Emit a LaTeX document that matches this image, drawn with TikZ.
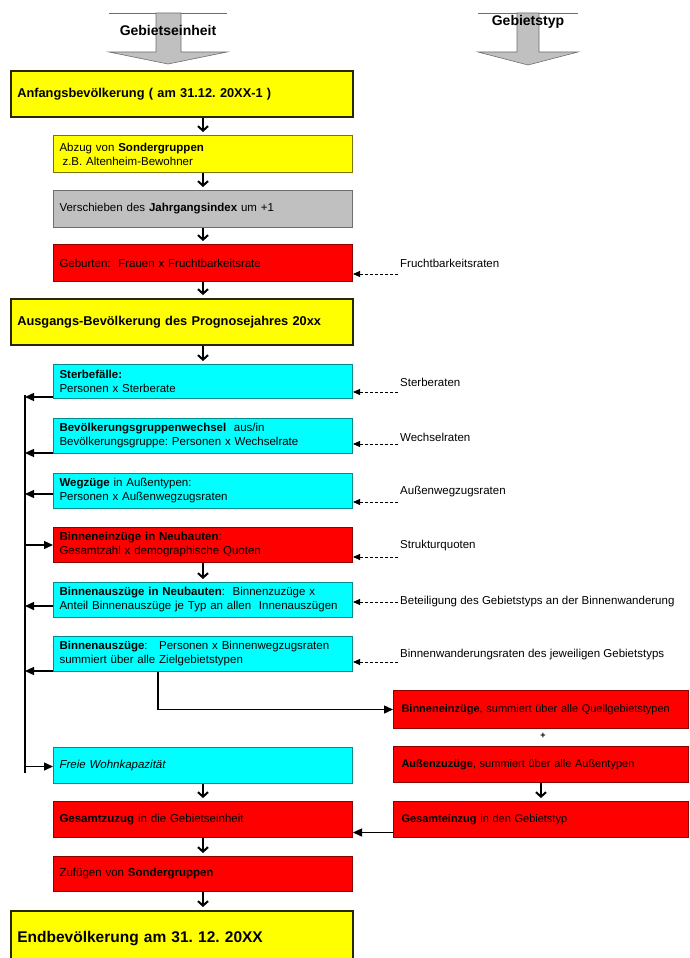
\documentclass[tikz,border=0pt]{standalone}
\usepackage{fontspec}
\setmainfont{Liberation Sans}
\usetikzlibrary{arrows.meta}
\frenchspacing

\definecolor{gelbfill}{RGB}{255,255,0}
\definecolor{gelbrand}{RGB}{120,120,0}
\definecolor{dunkelrand}{RGB}{40,40,0}
\definecolor{rotfill}{RGB}{255,0,0}
\definecolor{rotrand}{RGB}{140,0,0}
\definecolor{tuerkisfill}{RGB}{0,255,255}
\definecolor{tuerkisrand}{RGB}{0,140,140}
\definecolor{graufill}{RGB}{192,192,192}
\definecolor{graurand}{RGB}{110,110,110}

\begin{document}
\begin{tikzpicture}[x=1pt, y=-1pt,
  box/.style={draw, line width=1pt, anchor=north west, text width=287pt, inner xsep=6pt, inner ysep=2pt,
    minimum height=35pt, align=left, font=\fontsize{11.5}{14}\selectfont},
  bigbox/.style={box, line width=1.6pt, text width=329pt, inner xsep=6.5pt, minimum height=46pt,
    font=\bfseries\fontsize{12.8}{15}\selectfont},
  rechts/.style={text width=279pt, inner xsep=8pt, font=\fontsize{11}{14}\selectfont},
  gelb/.style={fill=gelbfill, draw=gelbrand},
  grau/.style={fill=graufill, draw=graurand},
  rot/.style={fill=rotfill, draw=rotrand},
  tuerkis/.style={fill=tuerkisfill, draw=tuerkisrand},
  rate/.style={anchor=west, inner sep=2pt, font=\fontsize{11.5}{14}\selectfont},
  folge/.style={-{Straight Barb[length=4.5pt,width=10pt]}, line width=2pt, shorten >=3pt},
  bus/.style={-{Triangle[length=9pt,width=8pt]}, line width=1.4pt},
  zulauf/.style={-{Triangle[length=7pt,width=6pt]}, line width=0.8pt, dash pattern=on 3pt off 2pt},
  kopf/.style={fill=graufill, draw=graurand, line width=0.6pt}
]
\path[use as bounding box, clip] (0,0) rectangle (690,958);

% Kopfpfeile
\draw[graurand, line width=0.6pt] (109,13) -- (227,13);
\filldraw[kopf] (156,13) -- (156,52) -- (109,52) -- (168,64) -- (227,52) -- (181,52) -- (181,13) -- cycle;
\node[font=\bfseries\fontsize{14}{16}\selectfont] (einheit) at (168,30) {Gebietseinheit};
\draw[graurand, line width=0.6pt] (478,13) -- (578,13);
\filldraw[kopf] (517,13) -- (517,52) -- (478,52) -- (528,65) -- (578,52) -- (539,52) -- (539,13) -- cycle;
\node[font=\bfseries\fontsize{14}{16}\selectfont] (typ) at (528,22) {Gebietstyp};

% Gebietseinheit
\node[bigbox, gelb, draw=dunkelrand] (anf) at (10,70) {Anfangsbevölkerung ( am 31.12. 20XX-1 )};
\node[box, gelb, minimum height=37pt] (abzug) at (53,135) {Abzug von \textbf{Sondergruppen}\\\hspace*{3pt}z.B. Altenheim-Bewohner};
\node[box, grau, minimum height=37pt] (versch) at (53,190) {Verschieben des \textbf{Jahrgangsindex} um +1};
\node[box, rot, minimum height=37pt] (geburt) at (53,244) {Geburten:\ \ Frauen x Fruchtbarkeitsrate};
\node[bigbox, gelb, draw=dunkelrand] (ausg) at (10,298) {Ausgangs-Bevölkerung des Prognosejahres 20xx};
\node[box, tuerkis, minimum height=34pt] (sterbe) at (53,364) {\textbf{Sterbefälle:}\\Personen x Sterberate};
\node[box, tuerkis] (wechsel) at (53,418) {\textbf{Bevölkerungsgruppenwechsel}\ \ aus/in\\Bevölkerungsgruppe: Personen x Wechselrate};
\node[box, tuerkis] (wegzug) at (53,473) {\textbf{Wegzüge} in Außentypen:\\Personen x Außenwegzugsraten};
\node[box, rot] (neubau) at (53,527) {\textbf{Binneneinzüge in Neubauten}:\\Gesamtzahl x demographische Quoten};
\node[box, tuerkis] (ausneu) at (53,582) {\textbf{Binnenauszüge in Neubauten}:\ \ Binnenzuzüge x\\Anteil Binnenauszüge je Typ an allen\ \ Innenauszügen};
\node[box, tuerkis] (binaus) at (53,636) {\textbf{Binnenauszüge}:\ \ \ Personen x Binnenwegzugsraten\\summiert über alle Zielgebietstypen};
\node[box, tuerkis, minimum height=36pt] (frei) at (53,747) {\textit{Freie Wohnkapazität}};
\node[box, rot, minimum height=36pt] (geszu) at (53,801) {\textbf{Gesamtzuzug} in die Gebietseinheit};
\node[box, rot] (zufueg) at (53,856) {Zufügen von \textbf{Sondergruppen}};
\node[bigbox, gelb, draw=dunkelrand, minimum height=56pt, font=\bfseries\fontsize{15.5}{18}\selectfont] (endb) at (10,910) {Endbevölkerung am 31. 12. 20XX};

% Gebietstyp
\node[box, rot, rechts, minimum height=38pt] (binein) at (393,690) {\textbf{Binneneinzüge}, summiert über alle Quellgebietstypen};
\node[font=\bfseries\small, inner sep=1pt] (plus) at (543,736) {+};
\node[box, rot, rechts, minimum height=36pt] (aussenzu) at (393,746) {\textbf{Außenzuzüge}, summiert über alle Außentypen};
\node[box, rot, rechts, minimum height=36pt] (gesein) at (393,801) {\textbf{Gesamteinzug} in den Gebietstyp};

% Raten
\node[rate] (frucht) at (398,263) {Fruchtbarkeitsraten};
\node[rate] (sterbr) at (398,382) {Sterberaten};
\node[rate] (wechr) at (398,437) {Wechselraten};
\node[rate] (aussr) at (398,492) {Außenwegzugsraten};
\node[rate] (struk) at (398,546) {Strukturquoten};
\node[rate] (beteil) at (398,602) {Beteiligung des Gebietstyps an der Binnenwanderung};
\node[rate] (binnr) at (398,655) {Binnenwanderungsraten des jeweiligen Gebietstyps};

% Hauptfolge
\draw[folge] (anf.south -| abzug.north) -- (abzug.north);
\draw[folge] (abzug.south) -- (versch.north);
\draw[folge] (versch.south) -- (geburt.north);
\draw[folge] (geburt.south) -- (ausg.north -| geburt.south);
\draw[folge] (ausg.south -| sterbe.north) -- (sterbe.north);
\draw[folge] (neubau.south) -- (ausneu.north);
\draw[folge] (frei.south) -- (geszu.north);
\draw[folge] (geszu.south) -- (zufueg.north);
\draw[folge] (zufueg.south) -- (endb.north -| zufueg.south);
\draw[folge] (aussenzu.south) -- (gesein.north);

% Sammelleitung links
\coordinate (bus) at (25,395);
\coordinate (busende) at (25,773);
\draw[line width=1.4pt] (bus) -- (busende);
\draw[bus] ([yshift=2pt]sterbe.south west) -- ([yshift=2pt]sterbe.south west -| bus);
\draw[bus] ([yshift=1pt]wechsel.south west) -- ([yshift=1pt]wechsel.south west -| bus);
\draw[bus] ([yshift=-3pt]wegzug.west) -- ([yshift=-3pt]wegzug.west -| bus);
\draw[bus] (neubau.west -| bus) -- (neubau.west);
\draw[bus] ([yshift=-6pt]ausneu.west) -- ([yshift=-6pt]ausneu.west -| bus);
\draw[bus] ([yshift=1pt]binaus.south west) -- ([yshift=1pt]binaus.south west -| bus);
\draw[bus] ([yshift=-1pt]frei.west -| bus) -- ([yshift=-1pt]frei.west);

\draw[bus] ([xshift=105pt]binaus.south west) |- (binein.west);
\draw[bus] ([yshift=-13pt]gesein.west) -- ([yshift=-13pt]gesein.west -| geszu.east);

% Zulaeufe
\draw[zulauf] ([yshift=-11pt]frucht.west) -- ([yshift=-11pt]frucht.west -| geburt.east);
\draw[zulauf] ([yshift=-10pt]sterbr.west) -- ([yshift=-10pt]sterbr.west -| sterbe.east);
\draw[zulauf] ([yshift=-7pt]wechr.west) -- ([yshift=-7pt]wechr.west -| wechsel.east);
\draw[zulauf] ([yshift=-10pt]aussr.west) -- ([yshift=-10pt]aussr.west -| wegzug.east);
\draw[zulauf] ([yshift=-11pt]struk.west) -- ([yshift=-11pt]struk.west -| neubau.east);
\draw[zulauf] (beteil.west) -- (beteil.west -| ausneu.east);
\draw[zulauf] ([yshift=-7pt]binnr.west) -- ([yshift=-7pt]binnr.west -| binaus.east);
\end{tikzpicture}
\end{document}
